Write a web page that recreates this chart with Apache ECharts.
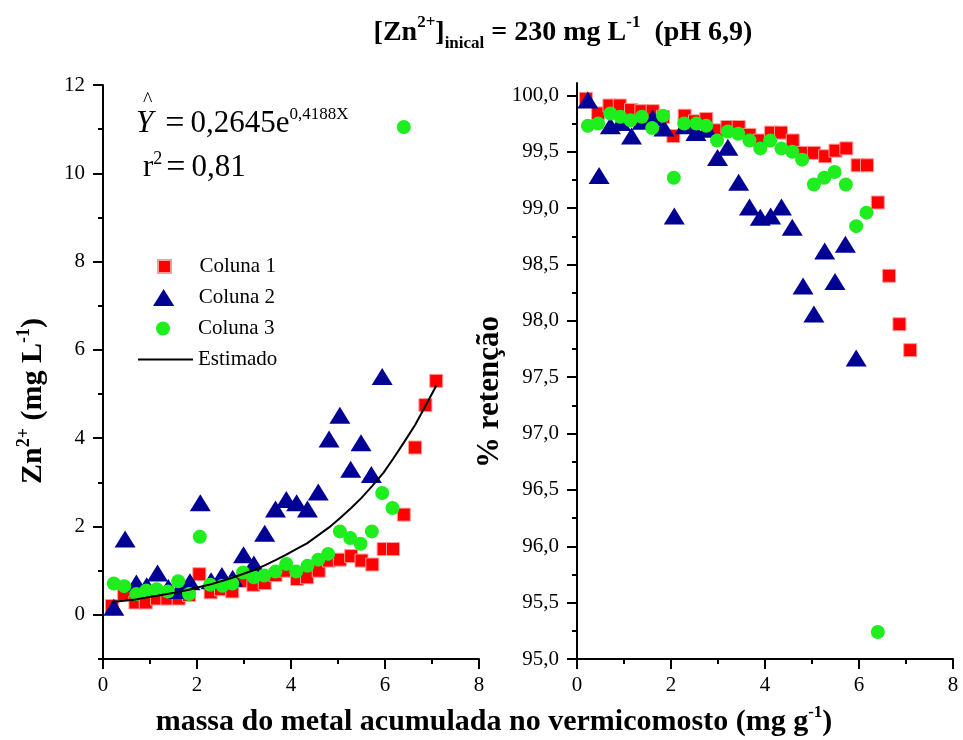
<!DOCTYPE html>
<html>
<head>
<meta charset="utf-8">
<script src="https://cdn.jsdelivr.net/npm/echarts@6/dist/echarts.min.js"></script>
<style>
  html, body { margin: 0; padding: 0; background: #fff; }
  #main { width: 963px; height: 740px; }
</style>
</head>
<body>
<div id="main"></div>
<script>
// massa acumulada (mg g-1) de cada coluna
var xCol1 = [0.19, 0.45, 0.69, 0.91, 1.15, 1.37, 1.61, 1.83, 2.05, 2.29, 2.51, 2.75, 2.99, 3.20, 3.44, 3.67, 3.89, 4.13, 4.34, 4.59, 4.81, 5.04, 5.28, 5.50, 5.73, 5.97, 6.17, 6.40, 6.64, 6.86, 7.09];
var xCol2 = [0.23, 0.47, 0.71, 0.93, 1.16, 1.39, 1.61, 1.85, 2.07, 2.30, 2.53, 2.76, 2.99, 3.21, 3.44, 3.67, 3.90, 4.12, 4.35, 4.58, 4.81, 5.04, 5.27, 5.49, 5.71, 5.94];
var xCol3 = [0.23, 0.45, 0.71, 0.92, 1.14, 1.38, 1.60, 1.83, 2.06, 2.28, 2.54, 2.75, 2.98, 3.21, 3.43, 3.67, 3.90, 4.11, 4.35, 4.58, 4.79, 5.04, 5.26, 5.48, 5.72, 5.94, 6.16, 6.40];

// Zn2+ (mg L-1)
var znCol1 = [0.20, 0.47, 0.28, 0.28, 0.37, 0.37, 0.37, 0.45, 0.92, 0.51, 0.58, 0.53, 0.77, 0.68, 0.72, 0.90, 1.00, 0.81, 0.85, 1.00, 1.23, 1.25, 1.33, 1.23, 1.14, 1.49, 1.49, 2.27, 3.79, 4.75, 5.30];
var znCol2 = [0.17, 1.72, 0.72, 0.66, 0.95, 0.62, 0.55, 0.75, 2.54, 0.77, 0.89, 0.83, 1.36, 1.15, 1.85, 2.40, 2.61, 2.54, 2.40, 2.78, 3.98, 4.52, 3.30, 3.90, 3.18, 5.40];
var znCol3 = [0.71, 0.65, 0.47, 0.55, 0.58, 0.53, 0.76, 0.47, 1.77, 0.68, 0.66, 0.71, 0.96, 0.85, 0.89, 0.98, 1.15, 0.98, 1.11, 1.25, 1.38, 1.89, 1.74, 1.61, 1.89, 2.76, 2.42, 11.05];
// curva estimada (nos x da coluna 1)
var znEstimado = [0.29, 0.32, 0.35, 0.39, 0.43, 0.47, 0.52, 0.57, 0.63, 0.69, 0.76, 0.84, 0.93, 1.01, 1.12, 1.24, 1.36, 1.50, 1.62, 1.81, 1.98, 2.19, 2.42, 2.65, 2.92, 3.22, 3.53, 3.90, 4.30, 4.73, 5.19];

// % retencao
var retCol1 = [99.97, 99.84, 99.91, 99.91, 99.87, 99.86, 99.86, 99.81, 99.64, 99.82, 99.77, 99.79, 99.69, 99.72, 99.72, 99.65, 99.60, 99.67, 99.67, 99.60, 99.49, 99.49, 99.46, 99.51, 99.53, 99.38, 99.38, 99.05, 98.40, 97.97, 97.74];
var retCol2 = [99.96, 99.29, 99.73, 99.76, 99.64, 99.77, 99.80, 99.71, 98.93, 99.73, 99.67, 99.70, 99.45, 99.54, 99.23, 99.01, 98.92, 98.93, 99.01, 98.83, 98.31, 98.06, 98.62, 98.35, 98.68, 97.67];
var retCol3 = [99.73, 99.75, 99.84, 99.81, 99.78, 99.81, 99.71, 99.82, 99.27, 99.75, 99.75, 99.73, 99.60, 99.68, 99.66, 99.60, 99.53, 99.60, 99.53, 99.50, 99.43, 99.21, 99.27, 99.32, 99.21, 98.84, 98.96, 95.24];

// marcas dos eixos y
var znTicks = [0, 2, 4, 6, 8, 10, 12];
var znMinorTicks = [-1, 1, 3, 5, 7, 9, 11];
var retTicks = [95, 95.5, 96, 96.5, 97, 97.5, 98, 98.5, 99, 99.5, 100];
var retMinorTicks = [95.25, 95.75, 96.25, 96.75, 97.25, 97.75, 98.25, 98.75, 99.25, 99.75];

function pairs(xs, ys) {
    return xs.map(function (x, i) { return [x, ys[i]]; });
}

var serif = 'Liberation Serif';
var red = '#ff0000', blue = '#000094', green = '#1eee1e';
var axisLineStyle = { color: '#000', width: 2 };

var myChart = echarts.init(document.getElementById('main'));

function xAxisOpt(gridIndex) {
    return {
        type: 'value', gridIndex: gridIndex, min: 0, max: 8, interval: 2,
        axisLine: { onZero: false, lineStyle: axisLineStyle },
        axisTick: { length: 10, lineStyle: axisLineStyle },
        minorTick: { show: true, splitNumber: 2, length: 5, lineStyle: axisLineStyle },
        axisLabel: { color: '#000', fontFamily: serif, fontSize: 21, margin: 16 },
        splitLine: { show: false }
    };
}

function yAxisOpt(gridIndex, min, max, ticks, fmt) {
    return {
        type: 'value', gridIndex: gridIndex, min: min, max: max,
        axisLine: { onZero: false, lineStyle: axisLineStyle },
        axisTick: { length: 10, lineStyle: axisLineStyle, customValues: ticks },
        axisLabel: { color: '#000', fontFamily: serif, fontSize: 21, margin: 18, customValues: ticks, formatter: fmt },
        splitLine: { show: false }
    };
}

function yMinorAxis(gridIndex, min, max, ticks) {
    return {
        type: 'value', gridIndex: gridIndex, min: min, max: max, position: 'left',
        axisLine: { show: false },
        axisTick: { length: 5, lineStyle: axisLineStyle, customValues: ticks },
        axisLabel: { show: false },
        splitLine: { show: false }
    };
}

var markers = {
    square: { symbol: 'rect', symbolSize: 13, itemStyle: { color: red, borderColor: '#ff9a9a', borderWidth: 1, opacity: 1 } },
    tri: { symbol: 'triangle', symbolSize: [21, 17], itemStyle: { color: blue, opacity: 1 } },
    circ: { symbol: 'circle', symbolSize: 14, itemStyle: { color: green, opacity: 1 } }
};

function scatter(name, xi, yi, data, st) {
    return Object.assign({
        name: name, type: 'scatter', xAxisIndex: xi, yAxisIndex: yi, data: data,
        emphasis: { disabled: true }, z: 3
    }, st);
}

// a caixa da legenda comeca no proprio icone; texto fica em centro + 35
function legendItem(name, icon, left, top, w, h) {
    return {
        data: [{ name: name, icon: icon }], left: left, top: top, orient: 'vertical', padding: 0,
        itemWidth: w, itemHeight: h, symbolKeepAspect: true,
        textStyle: { color: '#000', fontFamily: serif, fontSize: 21 },
        selectedMode: false
    };
}

var option = {
    backgroundColor: '#fff',
    animation: false,
    grid: [
        { left: 103, top: 85, width: 376, height: 574 },
        { left: 577, top: 83, width: 376, height: 576 }
    ],
    xAxis: [xAxisOpt(0), xAxisOpt(1)],
    yAxis: [
        yAxisOpt(0, -1, 12, znTicks, null),
        yAxisOpt(1, 95, 100.11, retTicks, function (v) { return v.toFixed(1).replace('.', ','); }),
        yMinorAxis(0, -1, 12, znMinorTicks),
        yMinorAxis(1, 95, 100.11, retMinorTicks)
    ],
    legend: [
        legendItem('Coluna 1', 'path://M0,0H10V10H0Z', 157, 256, 60, 13),
        legendItem('Coluna 2', 'path://M10,0L20,16L0,16Z', 153, 287, 60, 17),
        legendItem('Coluna 3', 'circle', 156, 318, 60, 14),
        legendItem('Estimado', 'rect', 138, 349, 55, 2)
    ],
    series: [
        scatter('Coluna 1', 0, 0, pairs(xCol1, znCol1), markers.square),
        scatter('Coluna 2', 0, 0, pairs(xCol2, znCol2), markers.tri),
        scatter('Coluna 3', 0, 0, pairs(xCol3, znCol3), markers.circ),
        {
            name: 'Estimado', type: 'line', xAxisIndex: 0, yAxisIndex: 0,
            data: pairs(xCol1, znEstimado), symbol: 'none', smooth: false,
            lineStyle: { color: '#000', width: 2 }, itemStyle: { color: '#000' },
            emphasis: { disabled: true }, z: 4
        },
        scatter('Coluna 1', 1, 1, pairs(xCol1, retCol1), markers.square),
        scatter('Coluna 2', 1, 1, pairs(xCol2, retCol2), markers.tri),
        scatter('Coluna 3', 1, 1, pairs(xCol3, retCol3), markers.circ)
    ],
    graphic: [
        {   // titulo
            type: 'text', x: 563, y: 33,
            style: {
                text: '{b|[Zn}{sup|2+}{b|]}{sub|inical}{b| = 230 mg L}{sup|-1}{b|  (pH 6,9)}',
                align: 'center', verticalAlign: 'middle',
                rich: {
                    b: { fontFamily: serif, fontWeight: 'bold', fontSize: 28, lineHeight: 38 },
                    sup: { fontFamily: serif, fontWeight: 'bold', fontSize: 17, lineHeight: 38, verticalAlign: 'top' },
                    sub: { fontFamily: serif, fontWeight: 'bold', fontSize: 17, lineHeight: 38, verticalAlign: 'bottom' }
                }
            }
        },
        {   // equacao
            type: 'text', x: 136, y: 124,
            style: {
                text: '{i|Y}{eq|=}{n|0,2645e}{sup|0,4188X}',
                verticalAlign: 'middle',
                rich: {
                    i: { fontFamily: serif, fontStyle: 'italic', fontSize: 31, lineHeight: 36 },
                    eq: { fontFamily: serif, fontSize: 34, lineHeight: 36, padding: [0, 6, 0, 12] },
                    n: { fontFamily: serif, fontSize: 31, lineHeight: 36 },
                    sup: { fontFamily: serif, fontSize: 17, lineHeight: 36, verticalAlign: 'top' }
                }
            }
        },
        {
            type: 'text', x: 143, y: 91,
            style: { text: '^', fontFamily: serif, fontSize: 20, fill: '#000' }
        },
        {
            type: 'text', x: 143, y: 168,
            style: {
                text: '{n|r}{sup|2}{eq|=}{n|0,81}',
                verticalAlign: 'middle',
                rich: {
                    n: { fontFamily: serif, fontSize: 31, lineHeight: 36 },
                    eq: { fontFamily: serif, fontSize: 34, lineHeight: 36, padding: [0, 6, 0, 4] },
                    sup: { fontFamily: serif, fontSize: 18, lineHeight: 36, verticalAlign: 'top' }
                }
            }
        },
        {   // nome eixo x
            type: 'text', x: 494, y: 722,
            style: {
                text: '{b|massa do metal acumulada no vermicomosto (mg g}{sup|-1}{b|)}',
                align: 'center', verticalAlign: 'middle',
                rich: {
                    b: { fontFamily: serif, fontWeight: 'bold', fontSize: 30, lineHeight: 36 },
                    sup: { fontFamily: serif, fontWeight: 'bold', fontSize: 17, lineHeight: 36, verticalAlign: 'top' }
                }
            }
        },
        {   // nome eixo y esquerdo
            type: 'text', x: 33, y: 401, rotation: Math.PI / 2,
            style: {
                text: '{b|Zn}{sup|2+}{b| (mg L}{sup|-1}{b|)}',
                align: 'center', verticalAlign: 'middle',
                rich: {
                    b: { fontFamily: serif, fontWeight: 'bold', fontSize: 30, lineHeight: 36 },
                    sup: { fontFamily: serif, fontWeight: 'bold', fontSize: 18, lineHeight: 36, verticalAlign: 'top' }
                }
            }
        },
        {   // nome eixo y direito
            type: 'text', x: 490, y: 392, rotation: Math.PI / 2,
            style: {
                text: '% retenção',
                align: 'center', verticalAlign: 'middle',
                fontFamily: serif, fontWeight: 'bold', fontSize: 31, fill: '#000'
            }
        }
    ]
};

myChart.setOption(option);
</script>
</body>
</html>
